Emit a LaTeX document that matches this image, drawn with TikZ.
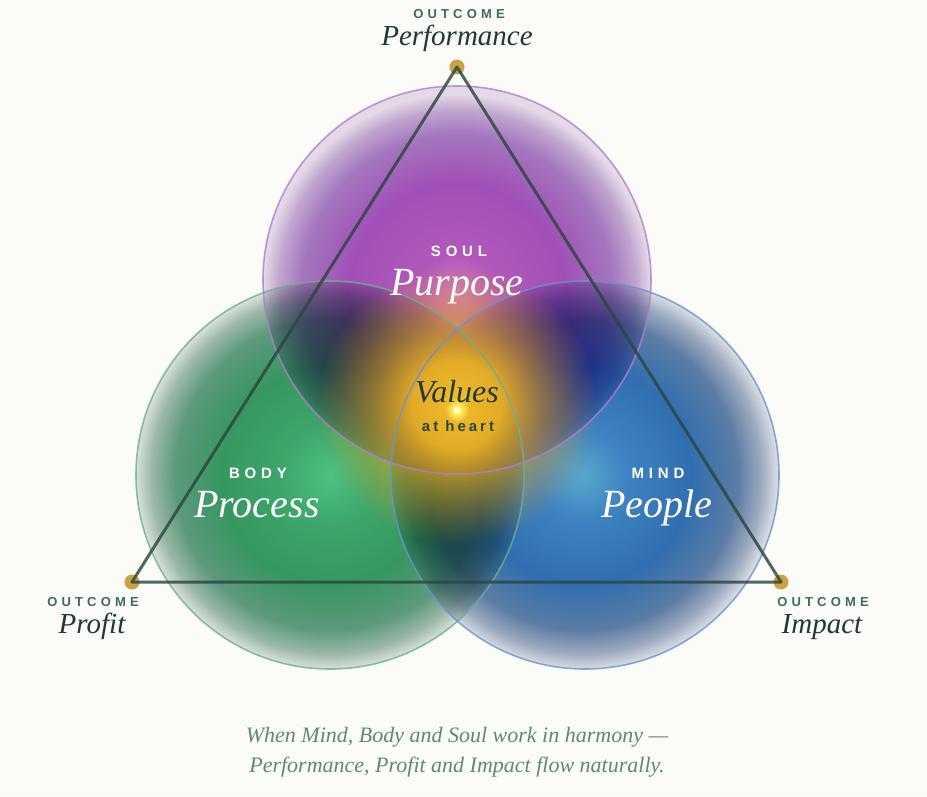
\documentclass[tikz,border=0pt]{standalone}
\usepackage{fontspec}
\setmainfont{Liberation Serif}
\newfontfamily\capsfont{Liberation Sans}[LetterSpace=32]
\newfontfamily\smallcapsfont{Liberation Sans}[LetterSpace=20]
\usetikzlibrary{fadings}

\definecolor{bg}{HTML}{FBFBF7}
\definecolor{soulA}{HTML}{D67CC6}
\definecolor{soulB}{HTML}{B65AC2}
\definecolor{soulC}{HTML}{A452BF}
\definecolor{soulD}{HTML}{A678C4}
\definecolor{soulE}{HTML}{C4A8D6}
\definecolor{soulF}{HTML}{E8DEEE}
\definecolor{bodyA}{HTML}{4FC486}
\definecolor{bodyB}{HTML}{3FAA70}
\definecolor{bodyC}{HTML}{389A64}
\definecolor{bodyD}{HTML}{5E9C80}
\definecolor{bodyE}{HTML}{9DBBAC}
\definecolor{bodyF}{HTML}{DDE5E0}
\definecolor{mindA}{HTML}{5AAAD4}
\definecolor{mindB}{HTML}{3F86C8}
\definecolor{mindC}{HTML}{3170B6}
\definecolor{mindD}{HTML}{5E7FAA}
\definecolor{mindE}{HTML}{9EADC6}
\definecolor{mindF}{HTML}{DCE0E8}
\definecolor{goldA}{HTML}{F4BE2C}
\definecolor{goldB}{HTML}{E8AC22}
\definecolor{goldC}{HTML}{D8961C}
\definecolor{soulline}{HTML}{B27CD0}
\definecolor{bodyline}{HTML}{6AB08E}
\definecolor{mindline}{HTML}{6A94CE}
\definecolor{triline}{HTML}{2B463F}
\definecolor{dotcol}{HTML}{C99A35}
\definecolor{capcol}{HTML}{3D6B5D}
\definecolor{wordcol}{HTML}{1E3A33}
\definecolor{capt}{HTML}{5F8878}

% radius of a circle = 25bp of a radial shading
\pgfdeclareradialshading{soulsh}{\pgfpoint{0bp}{-2bp}}{color(0bp)=(soulA); color(5bp)=(soulB); color(14bp)=(soulC); color(20bp)=(soulD); color(23bp)=(soulE); color(25bp)=(soulF); color(50bp)=(soulF)}
\pgfdeclareradialshading{bodysh}{\pgfpoint{0bp}{0bp}}{color(0bp)=(bodyA); color(6bp)=(bodyB); color(14bp)=(bodyC); color(20bp)=(bodyD); color(23bp)=(bodyE); color(25bp)=(bodyF); color(50bp)=(bodyF)}
\pgfdeclareradialshading{mindsh}{\pgfpoint{-0.5bp}{0bp}}{color(0bp)=(mindA); color(6bp)=(mindB); color(14bp)=(mindC); color(20bp)=(mindD); color(23bp)=(mindE); color(25bp)=(mindF); color(50bp)=(mindF)}
\pgfdeclareradialshading{goldsh}{\pgfpoint{0bp}{0bp}}{color(0bp)=(goldA); color(12bp)=(goldB); color(25bp)=(goldC); color(50bp)=(goldC)}
\pgfdeclareradialshading{glowfadesh}{\pgfpointorigin}{color(0bp)=(transparent!0); color(8bp)=(transparent!5); color(15bp)=(transparent!45); color(25bp)=(transparent!100); color(50bp)=(transparent!100)}
\pgfdeclarefading{glowfade}{\pgfuseshading{glowfadesh}}

\tikzset{
  ring/.style={line width=1.6pt, opacity=.8},
  tri/.style={draw=triline, line width=3pt, opacity=.82, line join=round},
  vdot/.style={circle, fill=dotcol, minimum size=15pt, inner sep=0pt, opacity=.92},
  txt/.style={inner sep=0pt, anchor=base},
  capword/.style={txt, font=\capsfont\bfseries\fontsize{13}{13}\selectfont, text=capcol},
  outword/.style={txt, font=\itshape\fontsize{29}{29}\selectfont, text=wordcol},
  wcap/.style={txt, font=\capsfont\bfseries\fontsize{15}{15}\selectfont, text=white},
  wword/.style={txt, font=\itshape\fontsize{40}{40}\selectfont, text=white},
  captxt/.style={txt, font=\itshape\fontsize{22}{22}\selectfont, text=capt},
}

\begin{document}
\begin{tikzpicture}[x=1pt,y=-1pt]
\useasboundingbox (0,0) rectangle (927,796);
\fill[bg] (0,0) rectangle (927,796);

\coordinate (cS) at (457,280);
\coordinate (cB) at (330,475);
\coordinate (cM) at (585,475);

\begin{scope}[blend mode=multiply]
  \shade[shading=soulsh] (cS) circle (194pt);
  \shade[shading=bodysh] (cB) circle (194pt);
  \shade[shading=mindsh] (cM) circle (194pt);
\end{scope}

% central glow
\shade[shading=goldsh, path fading=glowfade] (457,405) circle (140pt);

% circle outlines
\draw[ring, soulline] (cS) circle (194pt);
\draw[ring, bodyline] (cB) circle (194pt);
\draw[ring, mindline] (cM) circle (194pt);

% heart point
\fill[yellow!60!white, path fading=glowfade] (457,410) circle (12pt);
\fill[white!85!yellow] (457,410) circle (3.2pt);

% triangle
\node[vdot] (dT) at (457,67) {};
\node[vdot] (dL) at (132,582) {};
\node[vdot] (dR) at (781,582) {};
\draw[tri] (dT.center) -- (dL.center) -- (dR.center) -- cycle;

% outcome labels
\node[capword] (oT) at (459,18) {OUTCOME};
\node[outword] (wT) at (457,45) {Performance};
\node[capword] (oL) at (93,606) {OUTCOME};
\node[outword] (wL) at (92,633) {Profit};
\node[capword] (oR) at (823,606) {OUTCOME};
\node[outword] (wR) at (822,633) {Impact};

% circle labels
\node[wcap] (sS) at (459,256) {SOUL};
\node[wword] (sW) at (457,295) {Purpose};
\node[wcap] (bS) at (258,478) {BODY};
\node[wword] (bW) at (257,517) {Process};
\node[wcap] (mS) at (658,478) {MIND};
\node[wword] (mW) at (657,517) {People};

% center
\node[txt, font=\itshape\fontsize{32}{32}\selectfont, text=wordcol] (val) at (457,402) {Values};
\node[txt, font=\smallcapsfont\bfseries\fontsize{15}{15}\selectfont, text=triline] (hrt) at (458,431) {at heart};

% caption
\node[captxt] (c1) at (457,742) {When Mind, Body and Soul work in harmony ---};
\node[captxt] (c2) at (457,772) {Performance, Profit and Impact flow naturally.};
\end{tikzpicture}
\end{document}
